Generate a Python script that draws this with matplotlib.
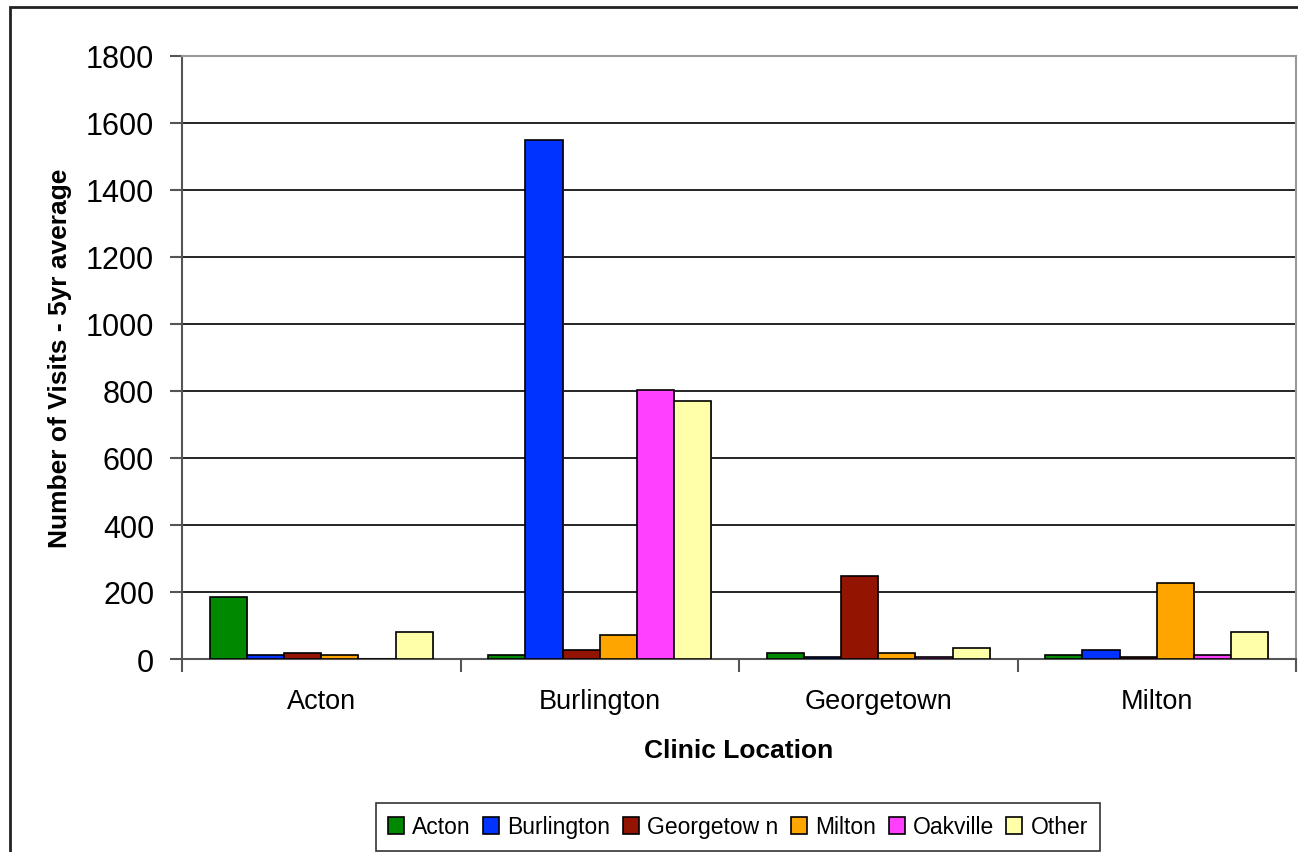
import matplotlib
matplotlib.use("Agg")
import matplotlib.pyplot as plt
import numpy as np
from matplotlib.patches import Rectangle

plt.rcParams['font.family'] = ['Liberation Sans', 'DejaVu Sans']

categories = ["Acton", "Burlington", "Georgetown", "Milton"]
series_names = ["Acton", "Burlington", "Georgetow n", "Milton", "Oakville", "Other"]
acton = [186, 12, 18, 11]
burlington = [12, 1548, 5, 26]
georgetown = [19, 26, 247, 5]
milton = [12, 73, 18, 226]
oakville = [0, 802, 5, 11]
other = [80, 771, 32, 80]
series_values = [acton, burlington, georgetown, milton, oakville, other]
colors = ["#008800", "#0033FF", "#931400", "#FFA500", "#FF40FF", "#FFFFAA"]
yticks = [0, 200, 400, 600, 800, 1000, 1200, 1400, 1600, 1800]

W, H = 1298, 853
fig = plt.figure(figsize=(W / 100, H / 100), dpi=100)
ax = fig.add_axes([182 / W, 1 - 660 / H, (1296 - 182) / W, (660 - 57) / H])

n = len(series_names)
gap = 1.5
bw = 1.0 / (n + gap)
x = np.arange(len(categories))
handles = []
for i, (name, vals, c) in enumerate(zip(series_names, series_values, colors)):
    pos = x - 0.5 + bw * gap / 2 + bw * (i + 0.5)
    ax.bar(pos + 0.004, vals, bw, bottom=0, color="#b0b0b0", edgecolor="none", zorder=2)
    b = ax.bar(pos, vals, bw, color=c, edgecolor="black", linewidth=1.2, zorder=3, label=name)
    handles.append(b)

ax.set_xlim(-0.5, len(categories) - 0.5)
ax.set_ylim(0, 1800)
ax.set_yticks(yticks)
ax.set_yticklabels([str(t) for t in yticks], fontsize=22)
ax.yaxis.grid(True, color="black", linewidth=1.2, zorder=1)
ax.set_axisbelow(True)

ax.set_xticks(x)
ax.set_xticklabels(categories, fontsize=19.5)
ax.tick_params(axis="x", which="major", length=0, pad=21)
ax.set_xticks(np.arange(len(categories) + 1) - 0.5, minor=True)
ax.tick_params(axis="x", which="minor", length=9, width=1.5, color="#555555", direction="out")
ax.tick_params(axis="y", length=9, width=1.5, color="#555555", direction="out", pad=11)

for s in ["top", "right"]:
    ax.spines[s].set_color("#999999")
    ax.spines[s].set_linewidth(1.5)
ax.spines["left"].set_color("#555555")
ax.spines["left"].set_linewidth(1.5)
ax.spines["bottom"].set_color("#555555")
ax.spines["bottom"].set_linewidth(1.5)

ax.set_xlabel("Clinic Location", fontsize=19, fontweight="bold", labelpad=17)
ax.set_ylabel("Number of Visits - 5yr average", fontsize=19, fontweight="bold", labelpad=10)

leg = fig.legend(handles=handles, labels=series_names, loc="center",
                 bbox_to_anchor=(738 / W, 1 - 828 / H), ncol=n, fontsize=16.5,
                 frameon=True, fancybox=False, edgecolor="black",
                 handlelength=0.7, handleheight=0.7, handletextpad=0.35,
                 columnspacing=0.55, borderpad=0.55, borderaxespad=0.2)
leg.get_frame().set_linewidth(1.2)

fig.patches.append(Rectangle((10 / W, -0.2), 1.5, 1 - 8 / H + 0.2,
                             transform=fig.transFigure, fill=False,
                             edgecolor="#222222", linewidth=2))

fig.savefig("out.png", dpi=100)
